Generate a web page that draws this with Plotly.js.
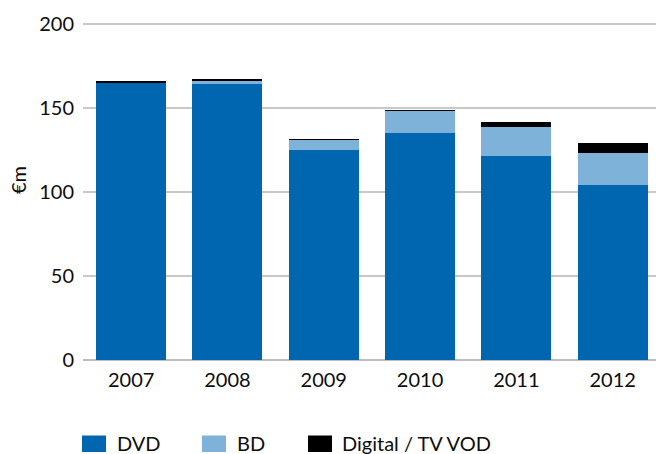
<!DOCTYPE html>
<html>
<head>
<meta charset="utf-8">
<script src="https://cdn.plot.ly/plotly-3.0.1.min.js"></script>
<style>html,body{margin:0;padding:0;background:#fff;}#chart{width:656px;height:454px;}</style>
</head>
<body>
<div id="chart"></div>
<script>
// ---- data ----
const years = ['2007', '2008', '2009', '2010', '2011', '2012'];
const dvd = [164.7, 164.5, 125, 135, 121.5, 104];
const bd = [0, 1.5, 6, 13, 17.2, 19];
const digital = [1.3, 1.3, 0.6, 0.7, 3, 6];
const seriesNames = ['DVD', 'BD', 'Digital / TV VOD'];
const seriesColors = ['#0066b0', '#7fb2d9', '#000000'];
const yTicks = [0, 50, 100, 150, 200];
const yTitle = '€m';

// ---- layout geometry ----
const W = 656, H = 454;
const L = 83, R = 0, T = 23, B = 94;
const PW = W - L - R, PH = H - T - B;
const px2x = px => (px - L) / PW;
const py2y = py => (T + PH - py) / PH;
const FONT = 'Lato, "DejaVu Sans", sans-serif';

const values = [dvd, bd, digital];
const traces = values.map((v, i) => ({
  type: 'bar',
  name: seriesNames[i],
  x: years,
  y: v,
  marker: {color: seriesColors[i], line: {width: 0}},
  showlegend: false,
  hoverinfo: 'x+y+name'
}));

// custom legend (wide rectangular swatches like the reference)
const legendSwatchX = [82, 202, 308];
const legendTextX = [115, 235, 340];
const shapes = seriesNames.map((n, i) => ({
  type: 'rect', xref: 'paper', yref: 'paper',
  x0: px2x(legendSwatchX[i]), x1: px2x(legendSwatchX[i] + 24),
  y0: py2y(452), y1: py2y(435.5),
  fillcolor: seriesColors[i], line: {width: 0}
}));
const annotations = seriesNames.map((n, i) => ({
  text: n, xref: 'paper', yref: 'paper',
  x: px2x(legendTextX[i]), y: py2y(442.5),
  xanchor: 'left', yanchor: 'middle', showarrow: false,
  font: {family: FONT, size: 20, color: '#0d0d0d'}
}));
annotations.push({
  text: yTitle, xref: 'paper', yref: 'paper',
  x: px2x(18), y: py2y(180), textangle: -90,
  xanchor: 'center', yanchor: 'middle', showarrow: false,
  font: {family: FONT, size: 20, color: '#0d0d0d'}
});

const layout = {
  width: W, height: H,
  margin: {l: L, r: R, t: T, b: B, pad: 0},
  paper_bgcolor: '#ffffff', plot_bgcolor: '#ffffff',
  barmode: 'stack',
  bargap: 0.273,
  showlegend: false,
  font: {family: FONT, size: 20, color: '#0d0d0d'},
  xaxis: {
    type: 'category',
    range: [-0.5, 5.45],
    showgrid: false, zeroline: false, showline: false,
    ticks: '', ticklabelstandoff: 6,
    tickfont: {family: FONT, size: 20, color: '#0d0d0d'},
    fixedrange: true
  },
  yaxis: {
    range: [0, 200.6],
    tickvals: yTicks,
    ticktext: yTicks.map(String),
    showgrid: true, gridcolor: '#c8c8c8', gridwidth: 2,
    zeroline: true, zerolinecolor: '#bdbdbd', zerolinewidth: 2.5,
    showline: false, ticks: '', ticklabelstandoff: 8,
    tickfont: {family: FONT, size: 20, color: '#0d0d0d'},
    fixedrange: true
  },
  shapes: shapes,
  annotations: annotations
};

Plotly.newPlot('chart', traces, layout, {displayModeBar: false, staticPlot: true});
</script>
</body>
</html>
